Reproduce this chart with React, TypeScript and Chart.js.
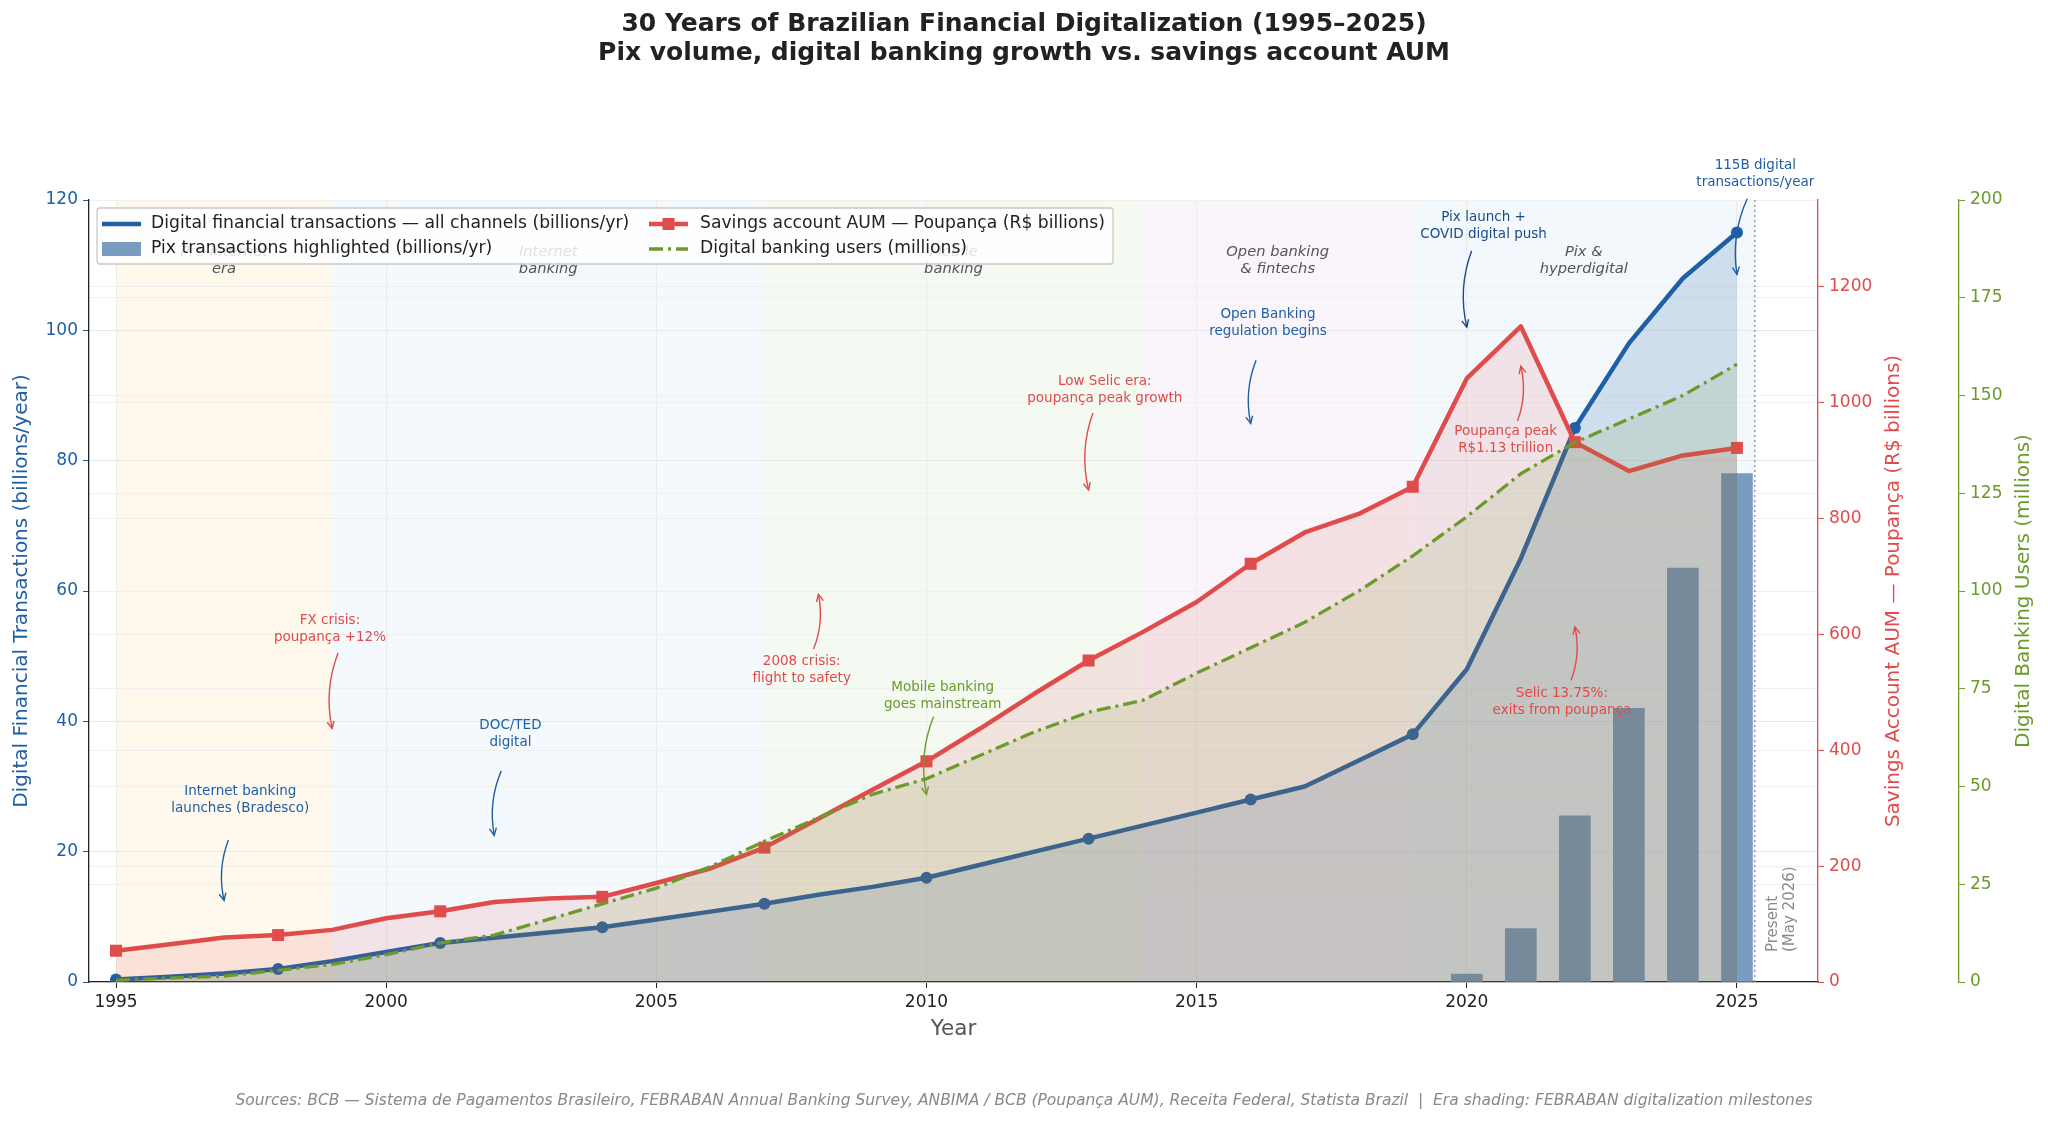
"use client"

import { useEffect, useRef } from "react"
import { Chart, registerables } from "chart.js"

Chart.register(...registerables)

const FONT = "'DejaVu Sans', Verdana, sans-serif"
const BLUE = "#1f5fa6"
const RED = "#e04b4b"
const GREEN = "#6b9b2b"
const PIX = "#7a9cc0"

// Yearly series, 1995–2025
const years = [
  1995, 1996, 1997, 1998, 1999, 2000, 2001, 2002, 2003, 2004, 2005, 2006, 2007, 2008, 2009, 2010,
  2011, 2012, 2013, 2014, 2015, 2016, 2017, 2018, 2019, 2020, 2021, 2022, 2023, 2024, 2025,
]
const digitalTx = [
  0.4, 0.8, 1.3, 2.0, 3.2, 4.6, 6.0, 6.8, 7.6, 8.4, 9.6, 10.8, 12.0, 13.4, 14.6, 16.0,
  18.0, 20.0, 22.0, 24.0, 26.0, 28.0, 30.0, 34.0, 38.0, 48.0, 65.0, 85.0, 98.0, 108.0, 115.0,
]
const poupancaAum = [
  54, 65, 77, 81, 90, 110, 122, 138, 144, 147, 171, 196, 232, 282, 332, 381,
  438, 498, 555, 604, 656, 722, 776, 808, 855, 1042, 1132, 932, 882, 909, 922,
]
const digitalUsers = [
  0.5, 1, 1.5, 3, 4.5, 7, 10, 12, 16, 20, 24, 29.5, 36, 42, 48, 52,
  58, 64, 69, 72, 79, 85.5, 92, 100, 109, 119, 130, 138, 144, 150, 158,
]
const pixYears = [2020, 2021, 2022, 2023, 2024, 2025]
const pixTx = [1.2, 8.2, 25.5, 42.0, 63.5, 78.0]
const markerYears = [1995, 1998, 2001, 2004, 2007, 2010, 2013, 2016, 2019, 2022, 2025]

// Tick labels
const xTicks = [1995, 2000, 2005, 2010, 2015, 2020, 2025]
const txTicks = [0, 20, 40, 60, 80, 100, 120]
const aumTicks = [0, 200, 400, 600, 800, 1000, 1200]
const userTicks = [0, 25, 50, 75, 100, 125, 150, 175, 200]

const presentYear = 2025.33

const eras = [
  { start: 1995, end: 1999, label: "Pre-internet\nera", color: "#fff8ec" },
  { start: 1999, end: 2007, label: "Internet\nbanking", color: "#f4f9fd" },
  { start: 2007, end: 2014, label: "Mobile\nbanking", color: "#f4f9f2" },
  { start: 2014, end: 2019, label: "Open banking\n& fintechs", color: "#f9f5fa" },
  { start: 2019, end: presentYear, label: "Pix &\nhyperdigital", color: "#f3f8fc" },
]

// Callouts: text centre and arrow (year, left-axis value)
const notes = [
  { text: "Internet banking\nlaunches (Bradesco)", color: BLUE, at: [1997.3, 28.0], from: [1997.08, 21.8], to: [1997.0, 12.5] },
  { text: "DOC/TED\ndigital", color: BLUE, at: [2002.3, 38.1], from: [2002.13, 32.4], to: [2002.0, 22.5] },
  { text: "FX crisis:\npoupança +12%", color: RED, at: [1998.96, 54.1], from: [1999.11, 50.5], to: [1999.0, 38.9] },
  { text: "2008 crisis:\nflight to safety", color: RED, at: [2007.69, 47.9], from: [2007.91, 51.1], to: [2008.0, 59.5] },
  { text: "Mobile banking\ngoes mainstream", color: GREEN, at: [2010.3, 43.9], from: [2010.13, 40.7], to: [2010.0, 28.8] },
  { text: "Low Selic era:\npoupança peak growth", color: RED, at: [2013.3, 90.9], from: [2013.08, 87.3], to: [2013.0, 75.5] },
  { text: "Open Banking\nregulation begins", color: BLUE, at: [2016.32, 101.2], from: [2016.1, 95.4], to: [2016.0, 85.7] },
  { text: "Pix launch +\nCOVID digital push", color: "#1a4c8a", at: [2020.31, 116.0], from: [2020.09, 112.2], to: [2020.0, 100.5] },
  { text: "115B digital\ntransactions/year", color: BLUE, at: [2025.34, 124.0], from: [2025.19, 120.2], to: [2025.0, 108.6] },
  { text: "Poupança peak\nR$1.13 trillion", color: RED, at: [2020.72, 83.1], from: [2020.94, 86.1], to: [2021.0, 94.5] },
  { text: "Selic 13.75%:\nexits from poupança", color: RED, at: [2021.76, 42.9], from: [2021.93, 46.3], to: [2022.0, 54.5] },
]

const toPoints = (xs: number[], ys: number[]) => xs.map((x, i) => ({ x, y: ys[i] }))

function drawLines(ctx: CanvasRenderingContext2D, text: string, x: number, y: number, lh: number) {
  const lines = text.split("\n")
  const y0 = y - ((lines.length - 1) * lh) / 2
  lines.forEach((l, i) => ctx.fillText(l, x, y0 + i * lh))
}

function drawArrow(ctx: CanvasRenderingContext2D, x1: number, y1: number, x2: number, y2: number) {
  const rad = 0.15
  const cx = (x1 + x2) / 2 - rad * (y2 - y1)
  const cy = (y1 + y2) / 2 + rad * (x2 - x1)
  ctx.beginPath()
  ctx.moveTo(x1, y1)
  ctx.quadraticCurveTo(cx, cy, x2, y2)
  ctx.stroke()
  const ang = Math.atan2(y2 - cy, x2 - cx)
  const len = 8
  ctx.beginPath()
  ctx.moveTo(x2 - len * Math.cos(ang - 0.45), y2 - len * Math.sin(ang - 0.45))
  ctx.lineTo(x2, y2)
  ctx.lineTo(x2 - len * Math.cos(ang + 0.45), y2 - len * Math.sin(ang + 0.45))
  ctx.stroke()
}

const decor = {
  id: "decor",
  beforeDraw(chart: any) {
    const { ctx, chartArea: a, scales } = chart
    ctx.save()
    eras.forEach((e) => {
      const x1 = scales.x.getPixelForValue(e.start)
      const x2 = scales.x.getPixelForValue(e.end)
      ctx.fillStyle = e.color
      ctx.fillRect(x1, a.top, x2 - x1, a.bottom - a.top)
    })
    ctx.restore()
  },
  afterDatasetsDraw(chart: any) {
    const { ctx, chartArea: a, scales } = chart
    const x = scales.x
    const y = scales.y
    ctx.save()

    // present marker
    const px = x.getPixelForValue(presentYear)
    ctx.strokeStyle = "#9a9a9a"
    ctx.lineWidth = 1.5
    ctx.setLineDash([2, 3])
    ctx.beginPath()
    ctx.moveTo(px, a.top)
    ctx.lineTo(px, a.bottom)
    ctx.stroke()
    ctx.setLineDash([])
    ctx.save()
    ctx.translate(px, y.getPixelForValue(4.6))
    ctx.rotate(-Math.PI / 2)
    ctx.fillStyle = "#8a8a8a"
    ctx.font = `15px ${FONT}`
    ctx.textAlign = "left"
    ctx.textBaseline = "middle"
    ctx.fillText("Present", 0, 18)
    ctx.fillText("(May 2026)", 0, 35)
    ctx.restore()

    // era labels
    ctx.fillStyle = "#555"
    ctx.font = `italic 14.7px ${FONT}`
    ctx.textAlign = "center"
    ctx.textBaseline = "middle"
    eras.forEach((e) => {
      const cx = x.getPixelForValue((e.start + e.end) / 2)
      drawLines(ctx, e.label, cx, a.top + 61, 17)
    })

    // callouts
    ctx.font = `13.5px ${FONT}`
    ctx.lineWidth = 1.4
    notes.forEach((n) => {
      ctx.fillStyle = n.color
      ctx.strokeStyle = n.color
      drawLines(ctx, n.text, x.getPixelForValue(n.at[0]), y.getPixelForValue(n.at[1]), 17)
      drawArrow(
        ctx,
        x.getPixelForValue(n.from[0]),
        y.getPixelForValue(n.from[1]),
        x.getPixelForValue(n.to[0]),
        y.getPixelForValue(n.to[1]),
      )
    })
    ctx.restore()
  },
  afterDraw(chart: any) {
    const { ctx, chartArea: a, width } = chart
    const ds = chart.data.datasets
    ctx.save()

    // legend
    const lx = 97
    const ly = 208
    ctx.fillStyle = "rgba(255,255,255,0.82)"
    ctx.strokeStyle = "#c8c8c8"
    ctx.lineWidth = 1.3
    ctx.beginPath()
    ctx.roundRect(lx, ly, 1016, 56, 3)
    ctx.fill()
    ctx.stroke()
    const row1 = ly + 16
    const row2 = ly + 41
    const c1 = lx + 5
    const c2 = lx + 552
    const sw = 39
    ctx.lineCap = "butt"
    // blue line
    ctx.strokeStyle = BLUE
    ctx.lineWidth = 4.5
    ctx.beginPath()
    ctx.moveTo(c1, row1)
    ctx.lineTo(c1 + sw, row1)
    ctx.stroke()
    // pix patch
    ctx.fillStyle = PIX
    ctx.fillRect(c1, row2 - 7, sw, 14)
    // red line + marker
    ctx.strokeStyle = RED
    ctx.beginPath()
    ctx.moveTo(c2, row1)
    ctx.lineTo(c2 + sw, row1)
    ctx.stroke()
    ctx.fillStyle = RED
    ctx.fillRect(c2 + sw / 2 - 6, row1 - 6, 12, 12)
    // green dash-dot
    ctx.strokeStyle = GREEN
    ctx.lineWidth = 3.3
    ctx.setLineDash([14, 5, 3, 5])
    ctx.beginPath()
    ctx.moveTo(c2, row2)
    ctx.lineTo(c2 + sw, row2)
    ctx.stroke()
    ctx.setLineDash([])
    ctx.fillStyle = "#222"
    ctx.font = `17.2px ${FONT}`
    ctx.textAlign = "left"
    ctx.textBaseline = "middle"
    ctx.fillText(ds[1].label, c1 + sw + 10, row1)
    ctx.fillText(ds[0].label, c1 + sw + 10, row2)
    ctx.fillText(ds[2].label, c2 + sw + 12, row1)
    ctx.fillText(ds[3].label, c2 + sw + 12, row2)

    // title
    ctx.fillStyle = "#222"
    ctx.textAlign = "center"
    ctx.font = `bold 25px ${FONT}`
    ctx.fillText("30 Years of Brazilian Financial Digitalization (1995–2025)", width / 2, 24)
    ctx.fillText("Pix volume, digital banking growth vs. savings account AUM", width / 2, 53)

    // right-hand axis titles (reading upwards)
    const midY = (a.top + a.bottom) / 2
    ctx.font = `20px ${FONT}`
    ctx.save()
    ctx.translate(1894, midY)
    ctx.rotate(-Math.PI / 2)
    ctx.fillStyle = RED
    ctx.fillText("Savings Account AUM — Poupança (R$ billions)", 0, 0)
    ctx.restore()
    ctx.save()
    ctx.translate(2024, midY)
    ctx.rotate(-Math.PI / 2)
    ctx.fillStyle = GREEN
    ctx.fillText("Digital Banking Users (millions)", 0, 0)
    ctx.restore()

    // source line
    ctx.fillStyle = "#888"
    ctx.font = `italic 15.5px ${FONT}`
    ctx.fillText(
      "Sources: BCB — Sistema de Pagamentos Brasileiro, FEBRABAN Annual Banking Survey, ANBIMA / BCB (Poupança AUM), Receita Federal, Statista Brazil  |  Era shading: FEBRABAN digitalization milestones",
      width / 2,
      1101,
    )
    ctx.restore()
  },
}

export default function App() {
  const canvasRef = useRef<HTMLCanvasElement>(null)
  const chartRef = useRef<Chart | null>(null)

  useEffect(() => {
    if (!canvasRef.current) return
    if (chartRef.current) chartRef.current.destroy()
    const ctx = canvasRef.current.getContext("2d")
    if (!ctx) return

    const tickFont = { family: FONT, size: 17 }
    const isMarker = (c: any) => markerYears.includes(years[c.dataIndex])

    chartRef.current = new Chart(ctx, {
      type: "line",
      data: {
        datasets: [
          {
            type: "bar",
            label: "Pix transactions highlighted (billions/yr)",
            data: toPoints(pixYears, pixTx),
            backgroundColor: PIX,
            borderWidth: 0,
            barThickness: 31,
            yAxisID: "y",
            order: 4,
          },
          {
            type: "line",
            label: "Digital financial transactions — all channels (billions/yr)",
            data: toPoints(years, digitalTx),
            borderColor: BLUE,
            backgroundColor: "rgba(31,95,166,0.17)",
            borderWidth: 4.5,
            borderJoinStyle: "round",
            fill: "origin",
            tension: 0,
            pointRadius: (c: any) => (isMarker(c) ? 6 : 0),
            pointBackgroundColor: BLUE,
            pointBorderColor: BLUE,
            pointBorderWidth: 0,
            yAxisID: "y",
            order: 3,
          },
          {
            type: "line",
            label: "Savings account AUM — Poupança (R$ billions)",
            data: toPoints(years, poupancaAum),
            borderColor: RED,
            backgroundColor: "rgba(224,75,75,0.12)",
            borderWidth: 4.5,
            borderJoinStyle: "round",
            fill: "origin",
            tension: 0,
            pointStyle: "rect",
            pointRadius: (c: any) => (isMarker(c) ? 8.5 : 0),
            pointBackgroundColor: RED,
            pointBorderColor: RED,
            pointBorderWidth: 0,
            yAxisID: "y1",
            order: 2,
          },
          {
            type: "line",
            label: "Digital banking users (millions)",
            data: toPoints(years, digitalUsers),
            borderColor: GREEN,
            backgroundColor: "rgba(107,155,43,0.13)",
            borderWidth: 3.3,
            borderDash: [14, 5, 3, 5],
            fill: "origin",
            tension: 0,
            pointRadius: 0,
            yAxisID: "y2",
            order: 1,
          },
        ],
      },
      options: {
        responsive: true,
        maintainAspectRatio: false,
        animation: false,
        layout: { padding: { top: 200, left: 0, right: 0, bottom: 62 } },
        plugins: {
          legend: { display: false },
          tooltip: { enabled: false },
        },
        scales: {
          x: {
            type: "linear",
            min: 1994.5,
            max: 2026.5,
            offset: false,
            afterBuildTicks: (s: any) => {
              s.ticks = xTicks.map((v) => ({ value: v }))
            },
            afterFit: (s: any) => {
              s.height = 80
            },
            ticks: {
              callback: (v: any) => String(v),
              color: "#222",
              font: tickFont,
              padding: 4,
              maxRotation: 0,
              autoSkip: false,
            },
            grid: { color: "#ebebeb", tickLength: 6, tickColor: "#222", offset: false },
            border: { color: "#222", width: 1.3 },
            title: {
              display: true,
              text: "Year",
              color: "#555",
              font: { family: FONT, size: 21.5 },
              padding: { top: 0, bottom: 20 },
            },
          },
          y: {
            position: "left",
            min: 0,
            max: 120,
            afterBuildTicks: (s: any) => {
              s.ticks = txTicks.map((v) => ({ value: v }))
            },
            afterFit: (s: any) => {
              s.width = 89
            },
            ticks: { callback: (v: any) => String(v), color: BLUE, font: tickFont, padding: 5 },
            grid: { color: "#e8e8e8", tickLength: 6, tickColor: BLUE },
            border: { color: "#222", width: 1.3 },
            title: {
              display: true,
              text: "Digital Financial Transactions (billions/year)",
              color: BLUE,
              font: { family: FONT, size: 20 },
              padding: { top: 10, bottom: 0 },
            },
          },
          y1: {
            position: "right",
            min: 0,
            max: 1350,
            afterBuildTicks: (s: any) => {
              s.ticks = aumTicks.map((v) => ({ value: v }))
            },
            afterFit: (s: any) => {
              s.width = 141
            },
            ticks: { callback: (v: any) => String(v), color: RED, font: tickFont, padding: 5 },
            grid: { color: "#efefef", tickLength: 6, tickColor: RED },
            border: { color: RED, width: 1.3 },
          },
          y2: {
            position: "right",
            min: 0,
            max: 200,
            afterBuildTicks: (s: any) => {
              s.ticks = userTicks.map((v) => ({ value: v }))
            },
            afterFit: (s: any) => {
              s.width = 89
            },
            ticks: { callback: (v: any) => String(v), color: GREEN, font: tickFont, padding: 5 },
            grid: { color: "#f0f0f0", tickLength: 6, tickColor: GREEN },
            border: { color: GREEN, width: 1.3 },
          },
        },
      },
      plugins: [decor],
    } as any)

    return () => {
      if (chartRef.current) {
        chartRef.current.destroy()
        chartRef.current = null
      }
    }
  }, [])

  return (
    <div style={{ position: "fixed", left: 0, top: 0, width: 2048, height: 1124, background: "#fff" }}>
      <canvas ref={canvasRef} />
    </div>
  )
}
